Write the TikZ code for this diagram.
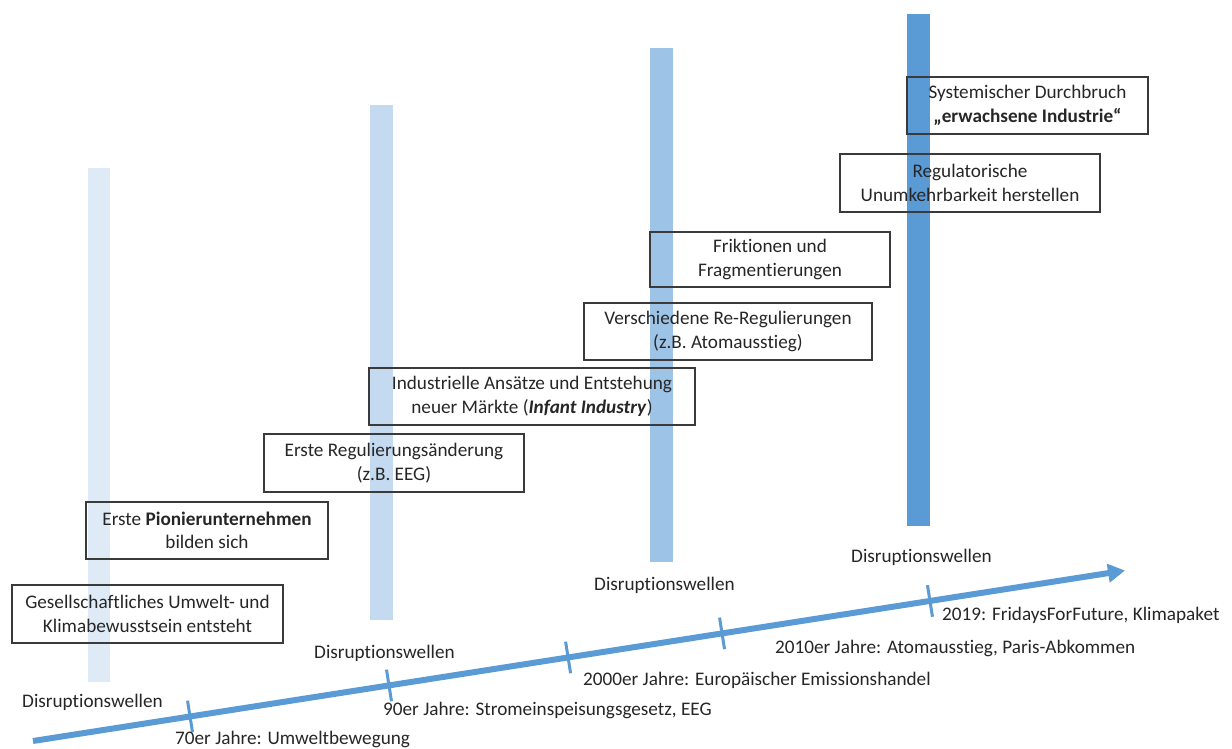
\documentclass[tikz,border=0pt]{standalone}
\usepackage{fontspec}
\setmainfont{Carlito}[Ligatures={NoCommon}]
\usetikzlibrary{arrows.meta}
\definecolor{barA}{HTML}{DEEBF7}
\definecolor{barB}{HTML}{C3DAF0}
\definecolor{barC}{HTML}{9DC3E6}
\definecolor{barD}{HTML}{5B9BD5}
\definecolor{tlc}{HTML}{5B9BD5}
\definecolor{textc}{HTML}{262626}
\definecolor{boxc}{HTML}{3A3A3A}
\begin{document}
\begin{tikzpicture}[x=1bp,y=-1bp,
  txt/.style={text=textc, font=\fontsize{19.2bp}{23.4bp}\selectfont},
  box/.style={txt, draw=boxc, line width=1.2bp, align=center, inner sep=0pt},
  lbl/.style={txt, anchor=mid west, inner sep=0pt},
  tick/.style={draw=tlc, line width=3bp},
  timeline/.style={draw=tlc, line width=6bp, -{Triangle[length=17bp,width=18bp]}}
]
\useasboundingbox (0,0) rectangle (1232,749);
% bars
\fill[barA] (88,168) rectangle (110,682);
\fill[barB] (370,105) rectangle (393,620);
\fill[barC] (650,48) rectangle (673,562);
\fill[barD] (907,14) rectangle (930,526);
% boxes
\node[box, minimum width=271bp, minimum height=58bp] (b1) at (147.5,614)
  {Gesellschaftliches Umwelt- und\\Klimabewusstsein entsteht};
\node[box, minimum width=242bp, minimum height=57bp] (b2) at (207,530.5)
  {Erste \textbf{Pionierunternehmen}\\bilden sich};
\node[box, minimum width=260bp, minimum height=58bp] (b3) at (394,463)
  {Erste Regulierungsänderung\\(z.B. EEG)};
\node[box, minimum width=326bp, minimum height=57bp] (b4) at (532,396.5)
  {Industrielle Ansätze und Entstehung\\neuer Märkte (\textbf{\textit{Infant Industry}})};
\node[box, minimum width=288bp, minimum height=57bp] (b5) at (728,331.5)
  {Verschiedene Re-Regulierungen\\(z.B. Atomausstieg)};
\node[box, minimum width=240bp, minimum height=55bp] (b6) at (770,259.5)
  {Friktionen und\\Fragmentierungen};
\node[box, minimum width=260bp, minimum height=58bp] (b7) at (970,183)
  {Regulatorische\\Unumkehrbarkeit herstellen};
\node[box, minimum width=241bp, minimum height=57bp] (b8) at (1027.5,105.5)
  {Systemischer Durchbruch\\\textbf{„erwachsene Industrie“}};
% timeline
\coordinate (ts) at (33,741);
\coordinate (te) at (1125,570.5);
\draw[timeline] (ts) -- (te);
\path (ts) -- (te)
  coordinate[pos=0.1438] (k1)
  coordinate[pos=0.3260] (k2)
  coordinate[pos=0.4900] (k3)
  coordinate[pos=0.6310] (k4)
  coordinate[pos=0.8214] (k5);
\foreach \k in {k1,k2,k3,k4,k5}
  \draw[tick] (\k) ++(-2.5,-15.8) -- ++(5,31.6);
% labels
\node[lbl] (d1) at (22,705) {Disruptionswellen};
\node[lbl] (d2) at (314,656) {Disruptionswellen};
\node[lbl] (d3) at (594,588) {Disruptionswellen};
\node[lbl] (d4) at (851,560) {Disruptionswellen};
\node[lbl] (y1) at (175,742) {70er Jahre: Umweltbewegung};
\node[lbl] (y2) at (383,713) {90er Jahre: Stromeinspeisungsgesetz, EEG};
\node[lbl] (y3) at (583,683) {2000er Jahre: Europäischer Emissionshandel};
\node[lbl] (y4) at (775,651) {2010er Jahre: Atomausstieg, Paris-Abkommen};
\node[lbl] (y5) at (942,618) {2019: FridaysForFuture, Klimapaket};
\end{tikzpicture}
\end{document}
